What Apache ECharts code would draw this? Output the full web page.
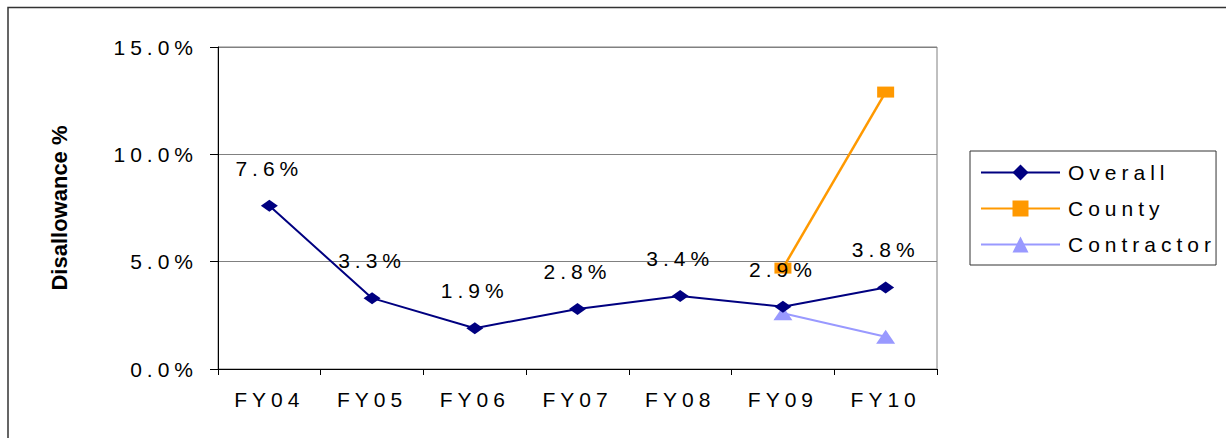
<!DOCTYPE html>
<html>
<head>
<meta charset="utf-8">
<script src="https://cdn.jsdelivr.net/npm/echarts@6/dist/echarts.min.js"></script>
<style>
    html, body { margin: 0; padding: 0; background: #fff; }
    #main { width: 1231px; height: 438px; }
    /* the source picture is stretched sideways, so widen the text a bit */
    #main svg text { letter-spacing: 5px; }
    #main svg text[style*="bold"] { letter-spacing: 0; }
</style>
</head>
<body>
<div id="main"></div>
<script>
// categories and values
var years = ['FY04', 'FY05', 'FY06', 'FY07', 'FY08', 'FY09', 'FY10'];
var overall = [7.6, 3.3, 1.9, 2.8, 3.4, 2.9, 3.8];
var county = [null, null, null, null, null, 4.7, 12.9];
var contractor = [null, null, null, null, null, 2.6, 1.5];
var yTicks = [0, 5, 10, 15];

var font = 'Liberation Sans, Arial, sans-serif';

function pct(v) {
    return Number(v).toFixed(1) + '%';
}

var chart = echarts.init(document.getElementById('main'), null, { renderer: 'svg' });

chart.setOption({
    animation: false,
    backgroundColor: '#fff',
    textStyle: { fontFamily: font, color: '#000' },
    grid: {
        left: 218,
        top: 47,
        right: 294,
        bottom: 69,
        show: true,
        borderColor: '#808080',
        borderWidth: 1
    },
    legend: {
        orient: 'vertical',
        left: 970,
        top: 151,
        padding: [11, 50, 10, 10],
        itemWidth: 79,
        itemHeight: 20,
        itemGap: 15,
        borderColor: '#333',
        borderWidth: 1,
        textStyle: { fontSize: 21, color: '#000', fontFamily: font, padding: [0, 0, 0, 3] },
        data: ['Overall', 'County', 'Contractor']
    },
    xAxis: {
        type: 'category',
        data: years,
        boundaryGap: true,
        axisLine: { lineStyle: { color: '#000', width: 1 } },
        axisTick: { show: true, length: 6, lineStyle: { color: '#000' } },
        axisLabel: { fontSize: 21, color: '#000', margin: 20, fontFamily: font }
    },
    yAxis: {
        type: 'value',
        min: yTicks[0],
        max: yTicks[yTicks.length - 1],
        interval: yTicks[1] - yTicks[0],
        name: 'Disallowance %',
        nameLocation: 'middle',
        nameGap: 148,
        nameTextStyle: { fontSize: 22, fontWeight: 'bold', color: '#000', fontFamily: font },
        axisLine: { show: true, lineStyle: { color: '#000', width: 1 } },
        axisTick: { show: true, length: 8, lineStyle: { color: '#000' } },
        axisLabel: { fontSize: 21, color: '#000', margin: 20, fontFamily: font, formatter: pct },
        splitLine: { show: true, lineStyle: { color: '#808080', width: 1 } }
    },
    graphic: [{
        // outer frame of the chart object (top and left edges show)
        type: 'polyline',
        silent: true,
        shape: { points: [[8, 440], [8, 7.5], [1226, 7.5]] },
        style: { stroke: '#333', lineWidth: 1.5, fill: null }
    }],
    series: [{
        name: 'Overall',
        type: 'line',
        data: overall,
        symbol: 'diamond',
        symbolSize: [17, 12],
        color: '#000080',
        lineStyle: { color: '#000080', width: 2 },
        itemStyle: { color: '#000080' },
        label: {
            show: true,
            position: 'top',
            distance: 21,
            fontSize: 21,
            color: '#000',
            fontFamily: font,
            formatter: function(p) { return pct(p.value); }
        },
        z: 3
    }, {
        name: 'County',
        type: 'line',
        data: county,
        symbol: 'rect',
        symbolSize: [17, 11],
        color: '#FF9900',
        lineStyle: { color: '#FF9900', width: 2.5 },
        itemStyle: { color: '#FF9900' },
        z: 2
    }, {
        name: 'Contractor',
        type: 'line',
        data: contractor,
        symbol: 'triangle',
        symbolSize: [19, 14],
        color: '#9999FF',
        lineStyle: { color: '#9999FF', width: 2 },
        itemStyle: { color: '#9999FF' },
        z: 2
    }]
});
</script>
</body>
</html>
